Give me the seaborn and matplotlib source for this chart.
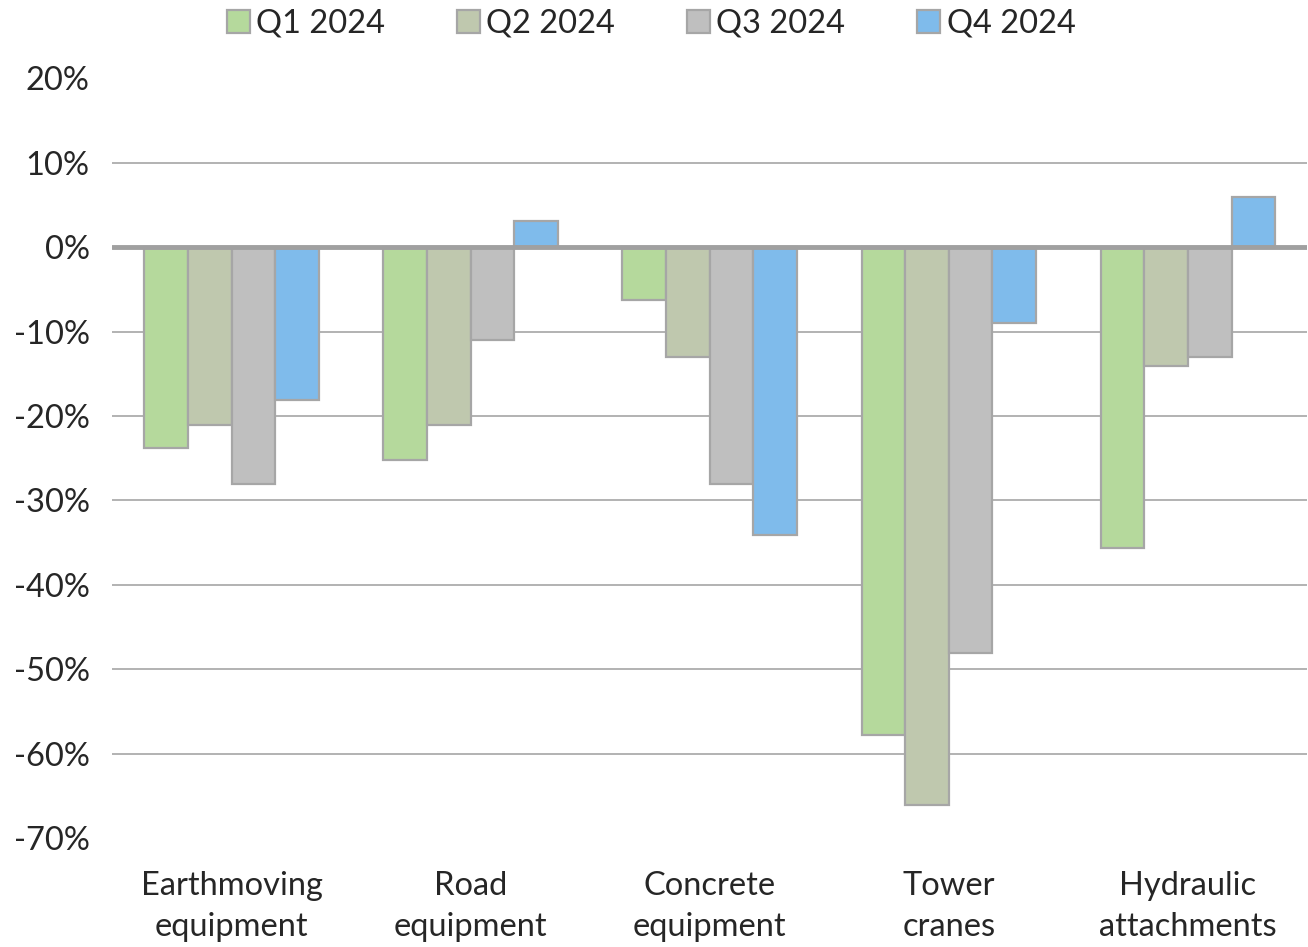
import numpy as np
import pandas as pd
import matplotlib.pyplot as plt
import seaborn as sns
from matplotlib.ticker import FuncFormatter

sns.set_style("white")
plt.rcParams['font.family'] = ['Lato', 'DejaVu Sans']

categories = ["Earthmoving\nequipment", "Road\nequipment", "Concrete\nequipment",
              "Tower\ncranes", "Hydraulic\nattachments"]
quarters = ["Q1 2024", "Q2 2024", "Q3 2024", "Q4 2024"]
q1 = [-23.8, -25.2, -6.3, -57.8, -35.7]
q2 = [-21.1, -21.1, -13.0, -66.1, -14.1]
q3 = [-28.1, -11.0, -28.1, -48.1, -13.0]
q4 = [-18.1, 3.1, -34.1, -9.0, 5.9]
colors = ["#B5D99C", "#BFC8AE", "#BFBFBF", "#7FBBEB"]

rows = []
for qname, vals in zip(quarters, [q1, q2, q3, q4]):
    for c, v in zip(categories, vals):
        rows.append({"Category": c, "Quarter": qname, "Change": v})
df = pd.DataFrame(rows)

fig = plt.figure(figsize=(13.08, 9.47), dpi=100)
ax = fig.add_axes([0.0856, 0.115, 0.914, 0.8024])

sns.barplot(data=df, x="Category", y="Change", hue="Quarter",
            palette=colors, width=0.73, gap=0, ax=ax,
            edgecolor="#A6A6A6", linewidth=1.6, saturation=1, zorder=3)

ax.set_ylim(-70, 20)
ax.set_yticks(np.arange(-70, 21, 10))
ax.yaxis.set_major_formatter(FuncFormatter(lambda v, p: f"{v:.0f}%"))
for yv in np.arange(-60, 11, 10):
    if yv != 0:
        ax.axhline(yv, color="#A6A6A6", lw=1.2, zorder=0)
ax.axhline(0, color="#A0A0A0", lw=3.5, zorder=4)
ax.set_xlim(-0.5, 4.5)
for s in ax.spines.values():
    s.set_visible(False)
ax.tick_params(axis='both', length=0, labelsize=23.5, pad=16)
ax.tick_params(axis='x', pad=24)
for lbl in ax.get_xticklabels():
    lbl.set_linespacing(1.45)
ax.set_xlabel("")
ax.set_ylabel("")

leg = ax.legend(loc="upper center", bbox_to_anchor=(0.451, 1.13), ncol=4,
                frameon=False, fontsize=23.5, handlelength=0.7, handleheight=0.7,
                handletextpad=0.2, columnspacing=2.2)

plt.savefig("out.png", dpi=100)
plt.close()
